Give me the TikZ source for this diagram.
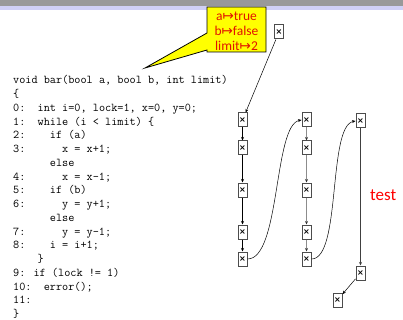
\documentclass[tikz,border=0pt]{standalone}
\usepackage{fontspec}
\newfontfamily\calib{Carlito}
\newfontfamily\dejav{DejaVu Sans}
\usetikzlibrary{arrows.meta}

\definecolor{bargray}{RGB}{153,153,153}
\definecolor{barlav}{RGB}{208,208,246}
\definecolor{callyel}{RGB}{255,255,0}
\definecolor{callred}{RGB}{225,20,0}

\tikzset{
  cell/.style={draw=black!70, line width=1pt, fill=white, minimum width=9pt,
    minimum height=14pt, inner sep=0pt,
    font=\dejav\bfseries\fontsize{8}{8}\selectfont},
  arr/.style={-{Stealth[length=3.5pt,width=3pt]}, line width=0.5pt, black},
  garr/.style={-{Stealth[length=3.5pt,width=3pt,color=black!80]},
    line width=0.9pt, black!45},
}

\begin{document}
\begin{tikzpicture}[x=1pt, y=-1pt]
\useasboundingbox (0,0) rectangle (403,320);

% title bar strips
\fill[bargray] (0,0) rectangle (403,6);
\fill[barlav] (0,6) rectangle (403,10);

% source code
\node[anchor=north west, align=left, inner sep=0pt,
      font=\ttfamily\fontsize{11.9}{13.75}\selectfont] (code) at (13,75.5) {%
void bar(bool a, bool b, int limit)\\
\{\\
0:~~int i=0, lock=1, x=0, y=0;\\
1:~~while (i < limit) \{\\
2:~~~~if (a)\\
3:~~~~~~x = x+1;\\
\mbox{}~~~~~~else\\
4:~~~~~~x = x-1;\\
5:~~~~if (b)\\
6:~~~~~~y = y+1;\\
\mbox{}~~~~~~else\\
7:~~~~~~y = y-1;\\
8:~~~~i = i+1;\\
\mbox{}~~~~\}\\
9: if (lock != 1)\\
10:~~error();\\
11:\\
\}};

% callout with the input values
\draw[fill=callyel, line width=0.8pt, line join=miter]
  (207,7) -- (266,7) -- (266,52) -- (207,52) -- (207,50) -- (145,68)
  -- (207,33) -- cycle;
\node[font=\calib\fontsize{13.5}{15}\selectfont, text=callred, align=center,
      inner sep=0pt] (vals) at (236.5,31)
  {a{\dejav ↦}true\\b{\dejav ↦}false\\limit{\dejav ↦}2};

% execution tree
\node[cell] (t0) at (279,32) {×};
\node[cell] (a1) at (242.5,120) {×};
\node[cell] (a2) at (242.5,148) {×};
\node[cell] (a3) at (242.5,190) {×};
\node[cell] (a4) at (242.5,232) {×};
\node[cell] (a5) at (242.5,259) {×};
\node[cell] (b1) at (306.5,120) {×};
\node[cell] (b2) at (306.5,148) {×};
\node[cell] (b3) at (306.5,190) {×};
\node[cell] (b4) at (306.5,232) {×};
\node[cell] (b5) at (306.5,259) {×};
\node[cell] (c1) at (360.5,121) {×};
\node[cell] (c2) at (360.5,273) {×};
\node[cell] (d1) at (337.5,300) {×};

\draw[arr] (t0) -- (a1);
\draw[arr] (a1) -- (a2);
\draw[arr] (a2) -- (a3);
\draw[arr] (a3) -- (a4);
\draw[arr] (a4) -- (a5);
\draw[arr] (a5.east) .. controls +(33,0) and +(-28,5) .. (b1.west);
\draw[garr] (b1) -- (b2);
\draw[garr] (b2) -- (b3);
\draw[garr] (b3) -- (b4);
\draw[garr] (b4) -- (b5);
\draw[arr] (b5.east) .. controls +(30,0) and +(-28,5) .. (c1.west);
\draw[arr, black!75] (c1) -- (c2);
\draw[arr] (c2) -- (d1);

\node[font=\calib\fontsize{17}{17}\selectfont, text=red, anchor=base west,
      inner sep=0pt] (tst) at (370,200) {test};
\end{tikzpicture}
\end{document}
